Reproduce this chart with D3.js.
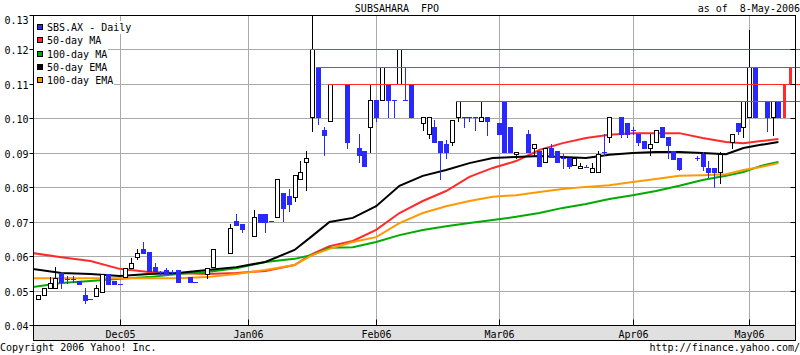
<!DOCTYPE html>
<html><head><meta charset="utf-8">
<script src="https://cdn.jsdelivr.net/npm/d3@7/dist/d3.min.js"></script>
<style>
body{margin:0;background:#fff;}
svg text{font-family:"DejaVu Sans Mono",monospace;font-size:10px;fill:#000;white-space:pre;}
</style></head><body>
<svg id="chart" width="800" height="355"></svg>
<script>
// ---------- data ----------
const titleText = "SUBSAHARA  FPO";
const asOfText = "as of  8-May-2006";
const copyrightText = "Copyright 2006 Yahoo! Inc.";
const urlText = "http://finance.yahoo.com/";
const legendLabels = ["SBS.AX - Daily","50-day MA","100-day MA","50-day EMA","100-day EMA"];
const yTicks = [0.04,0.05,0.06,0.07,0.08,0.09,0.10,0.11,0.12,0.13];
const monthLabels = ["Dec05","Jan06","Feb06","Mar06","Apr06","May06"];
const monthIdx = [14,36,58,79,102,122];

// daily candles: trading-day index, open, high, low, close
const candleIdx   = [0,1,2,3,4,5,6,7,8,9,10,11,12,13,14,15,16,17,18,19,20,21,22,23,24,26,27,29,30,33,34,35,37,38,39,40,41,42,43,44,45,46,47,48,49,50,53,55,56,57,58,59,60,61,62,63,64,66,67,68,69,70,71,72,73,74,75,76,77,79,80,81,82,84,85,86,87,88,89,90,91,92,93,94,95,96,97,98,100,101,102,103,104,105,106,107,108,109,110,113,114,115,116,117,119,120,121,122,123,125,126,127];
const candleOpen  = [.0476,.0487,.0507,.0507,.0551,.0535,.0535,.0528,.0487,.0476,.0484,.0496,.0548,.0528,.0520,.0540,.0565,.0597,.0620,.0612,.0568,.0553,.0560,.0553,.0560,.0539,.0525,.0548,.0567,.0609,.0702,.0693,.0658,.0722,.0722,.0702,.0714,.0783,.0775,.0772,.0824,.0873,.1003,.1149,.0966,.0992,.1100,.0914,.0905,.0975,.1053,.1053,.1100,.1053,.1100,.1053,.1100,.0986,.0954,.0975,.0934,.0925,.0931,.1003,.1003,.1003,.1003,.0992,.1003,.0986,.1050,.0975,.0896,.0954,.0914,.0905,.0873,.0914,.0905,.0885,.0885,.0864,.0856,.0860,.0844,.0844,.0902,.0946,.1003,.0986,.0966,.0955,.0934,.0914,.0931,.0975,.0946,.0905,.0885,.0885,.0896,.0856,.0856,.0844,.0931,.0986,.0975,.1003,.1149,.1050,.1003,.1050];
const candleHigh  = [.0487,.0507,.0539,.0568,.0554,.0541,.0541,.0528,.0507,.0476,.0516,.0548,.0548,.0528,.0520,.0565,.0594,.0620,.0641,.0612,.0580,.0557,.0565,.0560,.0560,.0539,.0525,.0565,.0621,.0693,.0722,.0693,.0734,.0722,.0722,.0702,.0824,.0783,.0795,.0835,.0876,.0905,.1300,.1149,.0975,.1100,.1100,.0954,.0905,.1100,.1053,.1149,.1100,.1053,.1201,.1149,.1100,.1003,.1003,.0995,.0934,.0937,.0995,.1050,.1003,.1003,.1003,.1050,.1003,.0986,.1050,.0975,.0902,.0966,.0925,.0905,.0914,.0925,.0905,.0896,.0885,.0885,.0870,.0864,.0870,.0905,.0955,.1003,.1003,.0986,.0975,.0955,.0934,.0955,.0966,.0975,.0946,.0905,.0885,.0890,.0902,.0876,.0856,.0902,.0955,.0986,.1050,.1256,.1149,.1050,.1050,.1050];
const candleLow   = [.0476,.0487,.0507,.0507,.0507,.0522,.0525,.0519,.0464,.0476,.0484,.0496,.0519,.0519,.0520,.0540,.0565,.0591,.0609,.0557,.0557,.0548,.0548,.0548,.0525,.0525,.0525,.0536,.0567,.0609,.0690,.0670,.0658,.0699,.0670,.0702,.0714,.0702,.0731,.0760,.0824,.0792,.0963,.0984,.0893,.0992,.0914,.0873,.0862,.0902,.0992,.1053,.1003,.1003,.1100,.1053,.1003,.0966,.0943,.0931,.0824,.0885,.0922,.0992,.0975,.0992,.0966,.0992,.0952,.0954,.0902,.0902,.0885,.0902,.0894,.0862,.0873,.0888,.0873,.0856,.0856,.0864,.0856,.0860,.0844,.0844,.0894,.0931,.0946,.0946,.0955,.0922,.0914,.0894,.0931,.0946,.0885,.0882,.0850,.0880,.0850,.0830,.0800,.0812,.0914,.0955,.0946,.1003,.1003,.0963,.0952,.1003];
const candleClose = [.0487,.0507,.0522,.0536,.0525,.0535,.0535,.0519,.0472,.0476,.0507,.0548,.0519,.0519,.0520,.0565,.0580,.0609,.0609,.0557,.0557,.0553,.0548,.0553,.0525,.0525,.0525,.0565,.0621,.0682,.0690,.0679,.0714,.0699,.0699,.0702,.0824,.0740,.0751,.0835,.0844,.0885,.1201,.1003,.0952,.1100,.0931,.0893,.0862,.1053,.1003,.1149,.1053,.1053,.1201,.1053,.1003,.1003,.1003,.0931,.0902,.0902,.0995,.1050,.1003,.1003,.1003,.1003,.0992,.0954,.0902,.0902,.0902,.0902,.0925,.0862,.0914,.0888,.0873,.0885,.0862,.0885,.0862,.0860,.0856,.0896,.0902,.1003,.0955,.0955,.0966,.0931,.0914,.0925,.0966,.0946,.0922,.0882,.0853,.0885,.0862,.0844,.0844,.0896,.0955,.0963,.1050,.1149,.1003,.1003,.1050,.1003];

// moving averages sampled along the trading-day index
const maIdx  = [-1,4,9,14,19,24,29,34,39,44,47,50,54,58,62,66,70,74,78,82,86,90,94,98,102,106,110,114,118,121,124,127];
const ma50   = [.0609,.0597,.0586,.0563,.0554,.0551,.0548,.0551,.0557,.0574,.0606,.0629,.0644,.0676,.0725,.0760,.0789,.0830,.0856,.0876,.0908,.0928,.0943,.0952,.0957,.0957,.0957,.0943,.0931,.0928,.0934,.0940];
const ma100  = [.0510,.0522,.0528,.0534,.0539,.0548,.0554,.0565,.0583,.0592,.0603,.0624,.0626,.0641,.0661,.0676,.0687,.0696,.0705,.0714,.0725,.0740,.0751,.0766,.0777,.0789,.0804,.0821,.0833,.0844,.0862,.0873];
const ema50  = [.0563,.0551,.0548,.0542,.0548,.0551,.0560,.0568,.0583,.0618,.0658,.0699,.0711,.0745,.0804,.0833,.0850,.0870,.0885,.0888,.0891,.0888,.0885,.0894,.0899,.0902,.0902,.0899,.0896,.0914,.0923,.0931];
const ema100 = [.0536,.0536,.0536,.0536,.0536,.0536,.0539,.0548,.0560,.0574,.0603,.0621,.0641,.0655,.0696,.0725,.0745,.0760,.0772,.0777,.0786,.0795,.0801,.0806,.0815,.0824,.0833,.0835,.0838,.0850,.0859,.0870];

// red price-level lines and red bars at the right end
const levelPrices   = [0.1201,0.1149,0.1100,0.1050];
const levelStartIdx = [47,48,50,72];
const redBarIdx  = [128,129];
const redBarLow  = [0.1003,0.1100];
const redBarHigh = [0.1100,0.1149];

// ---------- drawing ----------
const BLUE="#2828ff", RED="#ff2a2a", GREEN="#00aa00", ORANGE="#ff9900", GRID="#aaaaaa";
const legendColors=[BLUE,RED,GREEN,"#000000",ORANGE];
const L=33, R=795, T=15, B=325, BAND=340;
const svg=d3.select("#chart");
const x=d3.scaleLinear().domain([0,127]).range([38,38+127*5.83]);
const y=d3.scaleLinear().domain([0.04,0.13]).range([B,T]);
const px=v=>Math.round(x(v)), py=v=>Math.round(y(v));

svg.append("defs").append("clipPath").attr("id","clip")
  .append("rect").attr("x",L).attr("y",T).attr("width",R-L).attr("height",B-T);

// gridlines
svg.append("g").attr("shape-rendering","crispEdges").selectAll("line").data(yTicks.filter(d=>d>0.045&&d<0.125)).join("line")
  .attr("x1",L).attr("x2",R).attr("y1",d=>py(d)+0.5).attr("y2",d=>py(d)+0.5)
  .attr("stroke",GRID);
svg.append("g").attr("shape-rendering","crispEdges").selectAll("line").data(monthIdx).join("line")
  .attr("x1",d=>px(d)+0.5).attr("x2",d=>px(d)+0.5).attr("y1",T).attr("y2",B)
  .attr("stroke",GRID);

// moving average lines
const plot=svg.append("g").attr("clip-path","url(#clip)");
const series=[[ma50,RED],[ma100,GREEN],[ema50,"#000"],[ema100,ORANGE]];
const line=d3.line().x((d,i)=>x(maIdx[i])).y(d=>y(d));
series.forEach(([vals,col])=>{
  plot.append("path").datum(vals).attr("d",line).attr("fill","none")
    .attr("stroke",col).attr("stroke-width",2);
});

// candles
const candles=candleIdx.map((d,i)=>({i:d,o:candleOpen[i],h:candleHigh[i],l:candleLow[i],c:candleClose[i]}));
const cg=plot.append("g").attr("shape-rendering","crispEdges");
const g=cg.selectAll("g").data(candles).join("g");
g.append("line")
  .attr("x1",d=>px(d.i)+0.5).attr("x2",d=>px(d.i)+0.5)
  .attr("y1",d=>py(d.h)).attr("y2",d=>py(d.l)+1)
  .attr("stroke",d=>d.c>d.o?"#000":BLUE);
g.filter(d=>d.c>d.o).append("rect")
  .attr("x",d=>px(d.i)-1.5).attr("width",4)
  .attr("y",d=>py(d.c)+0.5).attr("height",d=>Math.max(1,py(d.o)-py(d.c)))
  .attr("fill","#fff").attr("stroke","#000");
g.filter(d=>d.c<d.o).append("rect")
  .attr("x",d=>px(d.i)-2).attr("width",5)
  .attr("y",d=>py(d.o)).attr("height",d=>py(d.c)-py(d.o)+1)
  .attr("fill",BLUE);
g.filter(d=>d.c===d.o).append("line")
  .attr("x1",d=>px(d.i)-2).attr("x2",d=>px(d.i)+3)
  .attr("y1",d=>py(d.c)+0.5).attr("y2",d=>py(d.c)+0.5)
  .attr("stroke",BLUE);

// red level lines and bars
svg.append("g").attr("shape-rendering","crispEdges").selectAll("line").data(levelPrices).join("line")
  .attr("x1",(d,i)=>px(levelStartIdx[i])-2).attr("x2",800)
  .attr("y1",d=>py(d)+0.5).attr("y2",d=>py(d)+0.5).attr("stroke",RED).attr("stroke-width",1);
svg.append("g").selectAll("rect").data(redBarIdx).join("rect")
  .attr("x",d=>px(d)-1).attr("width",3)
  .attr("y",(d,i)=>py(redBarHigh[i])).attr("height",(d,i)=>py(redBarLow[i])-py(redBarHigh[i])+1)
  .attr("fill",RED);

// legend
const lg=svg.append("g");
legendLabels.forEach((lab,k)=>{
  const cy=Math.round(27+13.3*k);
  lg.append("rect").attr("x",34).attr("y",cy-6).attr("width",14+6*lab.length).attr("height",13).attr("fill","#fff");
  lg.append("rect").attr("x",37.5).attr("y",cy-2.5).attr("width",5).attr("height",5)
    .attr("fill",legendColors[k]).attr("stroke","#000");
  lg.append("text").attr("x",47).attr("y",cy+4).text(lab);
});

// bottom band
svg.append("rect").attr("x",L+0.5).attr("y",B+0.5).attr("width",R-L).attr("height",BAND-B)
  .attr("fill","#e0e0e0").attr("stroke","#000");

// frame
svg.append("rect").attr("x",L+0.5).attr("y",T+0.5).attr("width",R-L).attr("height",BAND-T)
  .attr("fill","none").attr("stroke","#000");

// axes
const ya=svg.append("g").attr("transform",`translate(${L+0.5},0)`)
  .call(d3.axisLeft(y).tickValues(yTicks).tickSize(4).tickPadding(1).tickFormat(d3.format(".2f")));
ya.select(".domain").remove();
ya.selectAll(".tick").attr("transform",d=>`translate(0,${py(d)+0.5})`);
ya.selectAll(".tick text").attr("dy",null).attr("y",d=>Math.max(4,23-py(d)));
ya.attr("font-family",null).attr("font-size",null);

const yr=svg.append("g").attr("transform",`translate(${R+0.5},0)`)
  .call(d3.axisLeft(y).tickValues(yTicks).tickSize(5).tickFormat(""));
yr.select(".domain").remove();
yr.selectAll(".tick").attr("transform",d=>`translate(0,${py(d)+0.5})`);
yr.selectAll(".tick line").attr("x2",-5);

const xa=svg.append("g").attr("transform",`translate(0,${B+0.5})`)
  .call(d3.axisBottom(x).tickValues(monthIdx).tickSizeInner(-6).tickSizeOuter(0).tickPadding(5)
    .tickFormat((d,i)=>monthLabels[i]));
xa.select(".domain").remove();
xa.attr("font-family",null).attr("font-size",null);
xa.selectAll(".tick").attr("transform",d=>`translate(${px(d)+0.5},0)`);

// titles
svg.append("text").attr("x",397).attr("y",12).attr("text-anchor","middle").text(titleText);
svg.append("text").attr("x",800).attr("y",12).attr("text-anchor","end").text(asOfText);
svg.append("text").attr("x",0).attr("y",351).text(copyrightText);
svg.append("text").attr("x",800).attr("y",351).attr("text-anchor","end").text(urlText);
</script>
</body></html>
